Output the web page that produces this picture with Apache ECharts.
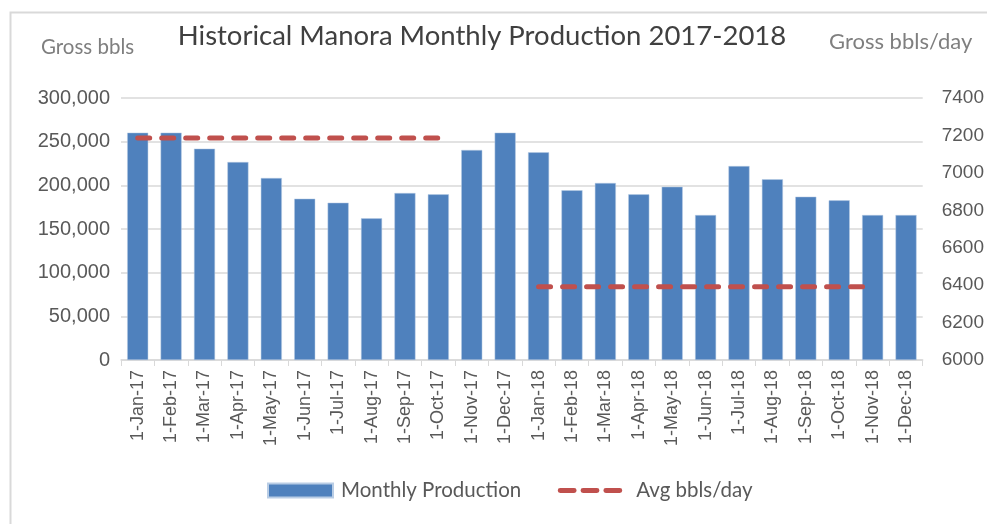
<!DOCTYPE html>
<html>
<head>
<meta charset="utf-8">
<script src="https://cdn.jsdelivr.net/npm/echarts@6/dist/echarts.min.js"></script>
<style>
html,body{margin:0;padding:0;background:#fff;}
#chart{width:987px;height:524px;}
</style>
</head>
<body>
<div id="chart"></div>
<script>
var categories = ['1-Jan-17','1-Feb-17','1-Mar-17','1-Apr-17','1-May-17','1-Jun-17','1-Jul-17','1-Aug-17','1-Sep-17','1-Oct-17','1-Nov-17','1-Dec-17',
  '1-Jan-18','1-Feb-18','1-Mar-18','1-Apr-18','1-May-18','1-Jun-18','1-Jul-18','1-Aug-18','1-Sep-18','1-Oct-18','1-Nov-18','1-Dec-18'];
var monthlyProduction = [260300, 260300, 242000, 226700, 208400, 184700, 180100, 162200, 191200, 189700, 240500, 260300,
  237800, 194300, 202700, 189700, 198400, 166000, 222100, 206900, 187000, 182800, 166000, 166000];
var avgBblsPerDay = [7186, 7186, 7186, 7186, 7186, 7186, 7186, 7186, 7186, 7186, null, null,
  6392, 6392, 6392, 6392, 6392, 6392, 6392, 6392, 6392, 6392, 6392, null];
var leftTicks = {min: 0, max: 300000, interval: 50000};
var rightTicks = {min: 6000, max: 7400, interval: 200};

var chart = echarts.init(document.getElementById('chart'), null, {renderer: 'canvas'});
var labelFont = "'Liberation Sans', Arial, sans-serif";
var textFont = "Lato, Calibri, sans-serif";
var dashIcon = 'path://M0,-4.5L0.01,-4.5L0.01,-4.49z M0,9.5L0.01,9.5L0.01,9.49z ' +
  'M3,0h14a2.5,2.5 0 0 1 0,5h-14a2.5,2.5 0 0 1 0,-5z M26,0h14a2.5,2.5 0 0 1 0,5h-14a2.5,2.5 0 0 1 0,-5z M49,0h14a2.5,2.5 0 0 1 0,5h-14a2.5,2.5 0 0 1 0,-5z';
chart.setOption({
  animation: false,
  backgroundColor: '#ffffff',
  graphic: [{
    type: 'rect', left: 8, top: 10, silent: true,
    shape: {width: 1000, height: 540},
    style: {fill: 'none', stroke: '#d9d9d9', lineWidth: 2}
  }],
  title: [
    {text: 'Historical Manora Monthly Production 2017-2018', left: 477, top: 17, textAlign: 'center',
     textStyle: {fontFamily: textFont, fontSize: 27.5, fontWeight: 'normal', color: '#404040'}},
    {text: 'Gross bbls', left: 36, top: 32,
     textStyle: {fontFamily: textFont, fontSize: 20.5, fontWeight: 'normal', color: '#7f7f7f'}},
    {text: 'Gross bbls/day', left: 824, top: 26,
     textStyle: {fontFamily: textFont, fontSize: 22, fontWeight: 'normal', color: '#7f7f7f'}}
  ],
  legend: {
    bottom: 18, left: 262, itemGap: 36, itemWidth: 65, itemHeight: 14,
    textStyle: {fontFamily: textFont, fontSize: 20.5, color: '#595959', padding: [0, 0, 0, 3]},
    data: [
      {name: 'Monthly Production', icon: 'rect'},
      {name: 'Avg bbls/day', icon: dashIcon, itemStyle: {color: '#c0504d'}, textStyle: {padding: [0, 0, 0, 9]}}
    ]
  },
  grid: {left: 121, right: 64, top: 98, bottom: 164, containLabel: false},
  xAxis: {
    type: 'category', data: categories,
    axisLine: {lineStyle: {color: '#d9d9d9', width: 1.5}},
    axisTick: {show: true, alignWithLabel: false, length: 6, lineStyle: {color: '#d9d9d9'}},
    axisLabel: {rotate: 90, interval: 0, fontFamily: labelFont, fontSize: 18, color: '#595959', margin: 10}
  },
  yAxis: [
    {type: 'value', min: leftTicks.min, max: leftTicks.max, interval: leftTicks.interval, position: 'left',
     axisLine: {show: false}, axisTick: {show: false},
     splitLine: {lineStyle: {color: '#d9d9d9', width: 1.5}},
     axisLabel: {fontFamily: labelFont, fontSize: 20, color: '#595959', margin: 11,
       formatter: function (v) { return v.toLocaleString('en-US'); }}},
    {type: 'value', min: rightTicks.min, max: rightTicks.max, interval: rightTicks.interval, position: 'right',
     alignTicks: false,
     axisLine: {show: false}, axisTick: {show: false}, splitLine: {show: false},
     axisLabel: {fontFamily: labelFont, fontSize: 19, color: '#595959', margin: 19,
       formatter: function (v) { return String(v); }}}
  ],
  series: [
    {name: 'Monthly Production', type: 'bar', yAxisIndex: 0, data: monthlyProduction,
     barCategoryGap: '37%',
     itemStyle: {color: '#4f81bd', borderColor: '#b9cde5', borderWidth: 0.5}},
    {name: 'Avg bbls/day', type: 'line', yAxisIndex: 1, data: avgBblsPerDay,
     symbol: 'none', connectNulls: false, itemStyle: {color: '#c0504d'},
     lineStyle: {color: '#c0504d', width: 5, type: [12, 12], cap: 'round'}}
  ]
});
</script>
</body>
</html>
